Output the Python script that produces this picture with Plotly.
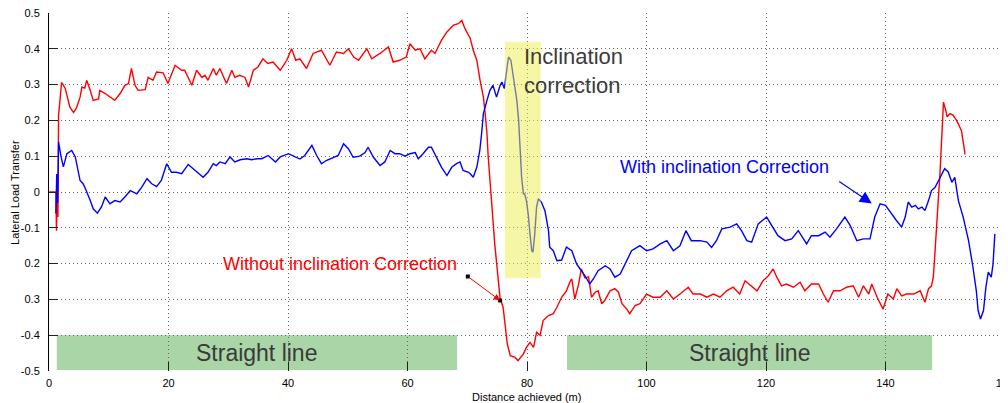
import plotly.graph_objects as go

# ---------------- data ----------------
red_x = [0, 1.15, 1.25, 1.4, 1.5, 1.6, 1.8, 2.1, 2.7, 3.5, 4.1, 4.6, 5.2, 5.5, 6.0, 6.3, 6.9, 7.4, 8.3, 8.5,
         9.4, 10.2, 11.0, 11.9, 12.7, 13.3, 13.8, 14.4, 14.9, 16.1, 16.6, 17.4, 18.0, 19.1, 19.9, 21.1, 22.2,
         22.7, 23.9, 24.7, 25.6, 26.1, 26.6, 27.5, 28.0, 28.6, 29.7, 30.6, 31.1, 31.9, 32.8, 33.4, 34.2, 35.0,
         35.8, 36.6, 37.5, 38.7, 39.8, 40.6, 41.3, 42.0, 43.1, 44.2, 45.6, 47.0, 48.1, 49.3, 50.1, 51.0, 51.8,
         53.2, 54.0, 55.4, 56.8, 57.6, 58.7, 59.8, 60.4, 61.3, 62.1, 62.9, 64.0, 64.6, 65.7, 66.6, 67.7, 68.5,
         69.1, 69.6, 70.5, 71.0, 71.6, 72.1, 72.7, 73.0, 73.3, 73.5, 73.8, 74.1, 74.6, 75.2, 75.5, 76.0, 76.3,
         76.7, 77.2, 78.0, 78.5, 79.4, 79.9, 80.5, 81.1, 81.6, 82.2, 82.7, 83.6, 84.4, 85.0, 85.8, 86.6, 87.2,
         87.5, 88.0, 88.6, 89.1, 89.7, 90.3, 90.8, 91.4, 91.9, 92.5, 93.0, 93.9, 94.7, 95.3, 95.9, 96.7, 97.2,
         98.1, 98.9, 100.0, 101.1, 102.3, 103.4, 104.5, 105.6, 107.0, 107.8, 109.0, 110.1, 111.2, 112.3, 113.4,
         114.5, 115.6, 116.5, 117.6, 118.5, 119.5, 120.4, 121.2, 121.8, 122.6, 123.4, 124.6, 125.7, 126.5,
         127.6, 128.8, 129.6, 130.4, 131.3, 132.4, 133.5, 134.6, 135.5, 136.3, 137.2, 137.7, 138.6, 139.6,
         140.4, 141.3, 141.9, 142.7, 143.5, 144.7, 145.8, 146.6, 147.2, 147.7, 148.0, 148.3, 148.6, 148.8,
         149.1, 149.4, 149.7, 150.1, 150.3, 150.8, 151.3, 151.9, 152.7, 153.1, 153.3]
red_y = [0, 0, -0.108, 0.05, -0.07, 0.214, 0.25, 0.306, 0.29, 0.237, 0.222, 0.235, 0.265, 0.293, 0.29, 0.312,
         0.284, 0.256, 0.26, 0.284, 0.275, 0.265, 0.256, 0.275, 0.298, 0.303, 0.345, 0.298, 0.284, 0.286, 0.32,
         0.312, 0.335, 0.333, 0.303, 0.354, 0.34, 0.34, 0.298, 0.34, 0.32, 0.326, 0.312, 0.345, 0.326, 0.345,
         0.303, 0.34, 0.32, 0.326, 0.32, 0.293, 0.34, 0.35, 0.372, 0.359, 0.363, 0.34, 0.368, 0.4, 0.368, 0.372,
         0.345, 0.387, 0.396, 0.354, 0.391, 0.387, 0.4, 0.377, 0.368, 0.4, 0.372, 0.387, 0.405, 0.363, 0.368,
         0.377, 0.414, 0.396, 0.4, 0.372, 0.396, 0.387, 0.424, 0.447, 0.466, 0.47, 0.479, 0.457, 0.429, 0.396,
         0.368, 0.316, 0.265, 0.219, 0.163, 0.1, 0.041, -0.033, -0.145, -0.256, -0.298, -0.322, -0.368, -0.424,
         -0.457, -0.462, -0.471, -0.452, -0.434, -0.42, -0.434, -0.392, -0.4, -0.359, -0.345, -0.34, -0.322,
         -0.294, -0.276, -0.25, -0.243, -0.299, -0.26, -0.215, -0.24, -0.237, -0.294, -0.28, -0.276, -0.312,
         -0.303, -0.276, -0.27, -0.28, -0.312, -0.327, -0.34, -0.317, -0.312, -0.285, -0.294, -0.294, -0.276,
         -0.299, -0.285, -0.266, -0.285, -0.285, -0.294, -0.285, -0.294, -0.276, -0.266, -0.285, -0.248, -0.262,
         -0.276, -0.248, -0.234, -0.215, -0.238, -0.262, -0.257, -0.266, -0.252, -0.276, -0.257, -0.257, -0.285,
         -0.308, -0.276, -0.276, -0.266, -0.262, -0.294, -0.262, -0.285, -0.257, -0.294, -0.327, -0.285, -0.299,
         -0.27, -0.29, -0.285, -0.285, -0.276, -0.308, -0.27, -0.262, -0.238, -0.164, -0.071, -0.03, 0.045,
         0.144, 0.251, 0.227, 0.21, 0.219, 0.215, 0.2, 0.172, 0.13, 0.105]

blue_x = [1.15, 1.3, 1.45, 1.6, 2.0, 2.4, 3.0, 3.8, 4.4, 5.2, 5.7, 6.0, 6.9, 7.4, 8.1, 8.8, 9.4, 10.2, 11.0,
          11.9, 12.7, 13.6, 14.7, 15.5, 16.4, 17.2, 18.0, 18.8, 19.7, 20.5, 21.3, 22.2, 23.3, 24.4, 25.8, 26.6,
          27.5, 28.0, 28.6, 29.5, 30.3, 31.1, 32.0, 33.1, 33.9, 34.8, 35.6, 36.7, 37.9, 38.7, 40.1, 41.2, 42.0,
          42.8, 44.0, 44.8, 45.6, 46.4, 47.6, 48.4, 49.3, 50.1, 50.9, 52.0, 52.9, 53.4, 54.3, 55.4, 56.2, 57.1,
          57.9, 58.7, 59.6, 60.4, 61.3, 61.8, 62.6, 63.5, 64.0, 64.9, 65.7, 66.6, 67.4, 68.2, 68.8, 69.3, 70.2,
          70.5, 71.0, 71.6, 72.1, 72.4, 72.7, 73.3, 73.8, 74.3, 74.9, 75.5, 75.8, 76.2, 76.6, 76.9, 77.3, 77.7,
          78.3, 78.6, 78.8, 79.1, 79.4, 79.6, 79.9, 80.2, 80.5, 80.8, 81.0, 81.3, 81.6, 81.9, 82.4, 83.0, 83.6,
          83.8, 84.4, 85.0, 85.8, 86.6, 87.5, 88.3, 89.1, 89.7, 90.5, 91.1, 91.9, 93.1, 93.9, 94.7, 95.6, 96.4,
          97.5, 98.9, 100.0, 101.1, 102.3, 103.4, 104.5, 105.6, 106.6, 107.5, 109.0, 110.1, 110.9, 111.7, 112.6,
          114.0, 115.1, 115.9, 116.8, 117.6, 118.7, 120.1, 121.2, 122.0, 123.2, 124.3, 125.4, 126.8, 127.6,
          128.8, 129.9, 130.7, 131.8, 133.2, 134.1, 135.2, 136.3, 137.4, 138.2, 139.1, 140.0, 141.0, 141.8,
          142.7, 143.3, 143.8, 144.4, 145.0, 145.5, 146.1, 146.6, 147.2, 147.7, 148.3, 149.1, 149.9, 150.5,
          151.1, 151.6, 152.2, 153.0, 153.9, 154.6, 155.2, 155.5, 155.9, 156.4, 156.8, 157.2, 157.7, 158.0, 158.3]
blue_y = [-0.06, 0.05, -0.03, 0.14, 0.1, 0.07, 0.107, 0.116, 0.098, 0.032, 0.023, 0.013, -0.024, -0.047, -0.059,
          -0.041, -0.014, -0.033, -0.024, -0.028, -0.014, 0.004, -0.005, 0.013, 0.037, 0.023, 0.015, 0.032, 0.079,
          0.055, 0.055, 0.051, 0.077, 0.06, 0.041, 0.055, 0.079, 0.074, 0.084, 0.079, 0.098, 0.084, 0.09, 0.093,
          0.09, 0.093, 0.093, 0.102, 0.084, 0.098, 0.107, 0.098, 0.092, 0.102, 0.13, 0.102, 0.079, 0.088, 0.097,
          0.102, 0.135, 0.121, 0.097, 0.1, 0.11, 0.125, 0.097, 0.074, 0.084, 0.116, 0.107, 0.107, 0.1, 0.107,
          0.11, 0.093, 0.107, 0.125, 0.125, 0.097, 0.069, 0.046, 0.069, 0.079, 0.084, 0.06, 0.055, 0.051, 0.041,
          0.069, 0.116, 0.163, 0.219, 0.256, 0.284, 0.298, 0.265, 0.298, 0.307, 0.289, 0.349, 0.377, 0.368, 0.321,
          0.256, 0.2, 0.116, 0.041, -0.005, -0.005, -0.024, -0.061, -0.117, -0.164, -0.168, -0.117, -0.042,
          -0.019, -0.028, -0.052, -0.108, -0.154, -0.164, -0.192, -0.19, -0.154, -0.164, -0.201, -0.22, -0.234,
          -0.257, -0.243, -0.22, -0.206, -0.215, -0.238, -0.229, -0.201, -0.164, -0.15, -0.164, -0.159, -0.145,
          -0.136, -0.164, -0.15, -0.108, -0.136, -0.136, -0.14, -0.155, -0.136, -0.103, -0.098, -0.089, -0.108,
          -0.136, -0.14, -0.089, -0.07, -0.098, -0.122, -0.136, -0.131, -0.108, -0.145, -0.122, -0.122, -0.112,
          -0.126, -0.103, -0.07, -0.094, -0.136, -0.131, -0.131, -0.07, -0.033, -0.037, -0.061, -0.079, -0.098,
          -0.07, -0.028, -0.042, -0.037, -0.047, -0.042, -0.052, -0.024, 0.004, 0.013, 0.041, 0.065, 0.056,
          0.027, 0.041, -0.024, -0.07, -0.136, -0.206, -0.276, -0.331, -0.355, -0.331, -0.266, -0.224, -0.238,
          -0.201, -0.117]

x_ticks = [0, 20, 40, 60, 80, 100, 120, 140, 160]
y_ticks = [0.5, 0.4, 0.3, 0.2, 0.1, 0, -0.1, -0.2, -0.3, -0.4, -0.5]
y_tick_text = ["0.5", "0.4", "0.3", "0.2", "0.1", "0", "-0.1", "0.2", "0.3", "-0.4", "-0.5"]

straight_segments = [(1.3, 68.3), (86.7, 147.8)]   # x-extent of the "Straight line" bands
band_y = (-0.497, -0.4)
incl_zone_x = (76.3, 82.3)
incl_zone_y = (-0.241, 0.42)

red_arrow_tail = (70.1, -0.236)
red_arrow_head = (75.5, -0.303)
blue_arrow_tail = (132.0, 0.032)
blue_arrow_head = (137.7, -0.032)

FONT = "Liberation Sans, Arial, sans-serif"

fig = go.Figure()

fig.add_trace(go.Scatter(x=red_x, y=red_y, mode="lines",
                         line=dict(color="#ff0000", width=1.4), showlegend=False))
fig.add_trace(go.Scatter(x=blue_x, y=blue_y, mode="lines",
                         line=dict(color="#0000ff", width=1.4), showlegend=False))
# small black end markers of the red pointer
fig.add_trace(go.Scatter(x=[red_arrow_tail[0], red_arrow_head[0]], y=[red_arrow_tail[1], red_arrow_head[1]],
                         mode="markers", marker=dict(symbol="square", size=4, color="black"),
                         showlegend=False))

# green "Straight line" bands
for x0, x1 in straight_segments:
    fig.add_shape(type="rect", x0=x0, x1=x1, y0=band_y[0], y1=band_y[1], xref="x", yref="y",
                  fillcolor="#a9d5a7", line=dict(width=0), layer="below")
    fig.add_annotation(x=(x0 + x1) / 2, y=(band_y[0] + band_y[1]) / 2, text="Straight line",
                       showarrow=False, font=dict(family=FONT, size=23, color="#3a3a3a"))

# yellow inclination zone (semi transparent, above the curves)
fig.add_shape(type="rect", x0=incl_zone_x[0], x1=incl_zone_x[1], y0=incl_zone_y[0], y1=incl_zone_y[1],
              xref="x", yref="y", fillcolor="#eef04c", opacity=0.5, line=dict(width=0), layer="above")

fig.add_annotation(x=79.2, y=0.337, text="Inclination<br>correction", showarrow=False,
                   xanchor="left", align="left",
                   font=dict(family=FONT, size=22, color="#3c3c3c"))

fig.add_annotation(x=113.1, y=0.0685, text="With inclination Correction", showarrow=False,
                   font=dict(family=FONT, size=18, color="#0000ff"))
fig.add_annotation(x=blue_arrow_head[0], y=blue_arrow_head[1], ax=blue_arrow_tail[0], ay=blue_arrow_tail[1],
                   axref="x", ayref="y", xref="x", yref="y", text="", showarrow=True,
                   arrowhead=2, arrowsize=2, arrowwidth=1.2, arrowcolor="#0000ff", standoff=0)

fig.add_annotation(x=48.7, y=-0.2, text="Without inclination Correction", showarrow=False,
                   font=dict(family=FONT, size=18, color="#ff0000"))
fig.add_annotation(x=red_arrow_head[0], y=red_arrow_head[1], ax=red_arrow_tail[0], ay=red_arrow_tail[1],
                   axref="x", ayref="y", xref="x", yref="y", text="", showarrow=True,
                   arrowhead=2, arrowsize=1.3, arrowwidth=1, arrowcolor="#ff0000", standoff=0)

# axis titles
fig.add_annotation(xref="paper", yref="paper", x=-0.0356, y=0.5, xanchor="center", yanchor="middle",
                   text="Lateral Load Transfer", textangle=-90, showarrow=False,
                   font=dict(family=FONT, size=11, color="black"))
fig.add_annotation(xref="paper", yref="paper", x=0.499, y=-0.0726, xanchor="center", yanchor="middle",
                   text="Distance achieved (m)", showarrow=False,
                   font=dict(family=FONT, size=11, color="black"))

# the page places the figure 8px from the top-left corner, so the canvas is 1000x395
fig.update_layout(
    width=1000, height=395,
    margin=dict(l=41, r=3, t=5, b=32, pad=0, autoexpand=False),
    paper_bgcolor="white", plot_bgcolor="white",
    font=dict(family=FONT, size=11, color="black"),
    showlegend=False,
)
fig.update_xaxes(range=[0, 160], tickvals=x_ticks, ticks="inside", ticklen=9, tickcolor="#222",
                 showgrid=True, gridcolor="#666", griddash="1px,3px", gridwidth=1, automargin=False,
                 zeroline=False, showline=False, ticklabelstandoff=4, ticklabeloverflow="allow",
                 tickfont=dict(family=FONT, size=11, color="black"))
fig.update_yaxes(range=[-0.5, 0.5], tickvals=y_ticks, ticktext=y_tick_text, ticks="inside", ticklen=9,
                 tickcolor="#222", showgrid=True, gridcolor="#666", griddash="1px,3px", gridwidth=1,
                 zeroline=False, showline=True, linecolor="black", linewidth=1, ticklabelstandoff=6,
                 ticklabeloverflow="allow", automargin=False,
                 tickfont=dict(family=FONT, size=11, color="black"))

fig.write_html("out.html")
